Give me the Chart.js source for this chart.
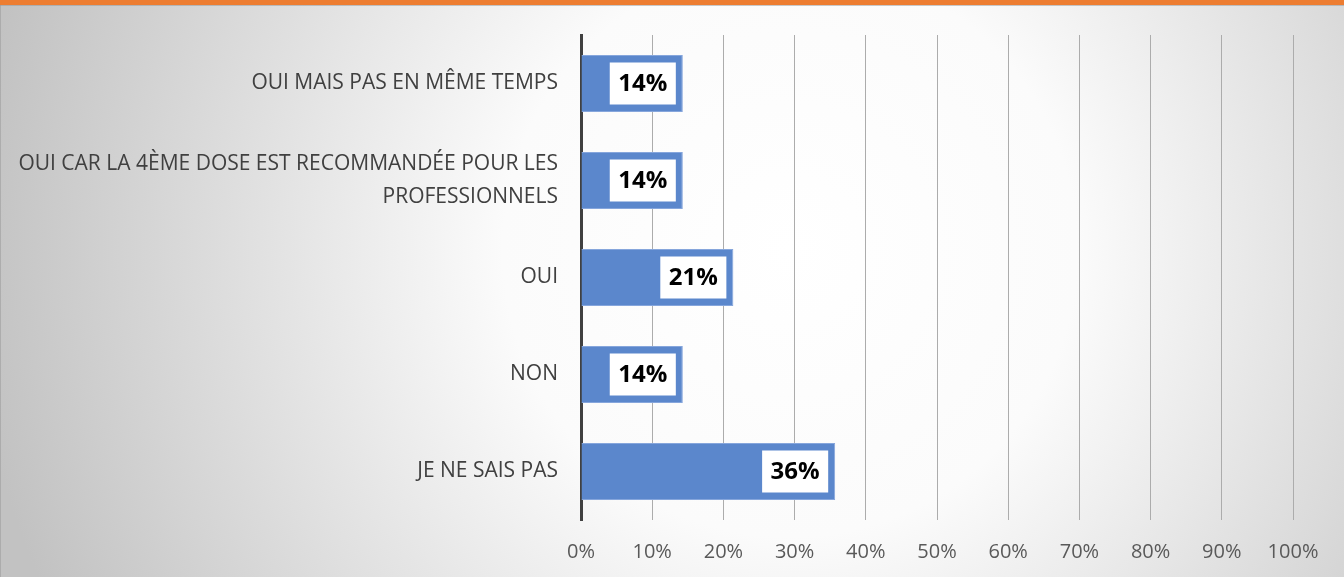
<!DOCTYPE html>
<html>
<head>
<meta charset="utf-8">
<script src="https://cdn.jsdelivr.net/npm/chart.js@4.4.1/dist/chart.umd.min.js"></script>
<style>
  html, body { margin: 0; padding: 0; background: #fff; }
  #wrap { width: 1344px; height: 577px; position: relative; }
</style>
</head>
<body>
<div id="wrap"><canvas id="chart" width="1344" height="577"></canvas></div>
<script>
// données du graphique
const categories = [
  'OUI MAIS PAS EN MÊME TEMPS',
  ['OUI CAR LA 4ÈME DOSE EST RECOMMANDÉE POUR LES', 'PROFESSIONNELS'],
  'OUI',
  'NON',
  'JE NE SAIS PAS'
];
const values = [14.3, 14.3, 21.4, 14.3, 35.7];
const valueLabels = ['14%', '14%', '21%', '14%', '36%'];
const tickValues = [0, 10, 20, 30, 40, 50, 60, 70, 80, 90, 100];

// fond dégradé + bandeau orange
const backgroundPlugin = {
  id: 'fond',
  beforeDraw(chart) {
    const { ctx, width, height } = chart;
    ctx.save();
    const g = ctx.createRadialGradient(790, 250, 0, 790, 250, 820);
    g.addColorStop(0, '#ffffff');
    g.addColorStop(0.35, '#fbfbfb');
    g.addColorStop(1, '#c2c2c2');
    ctx.fillStyle = g;
    ctx.fillRect(0, 0, width, height);
    ctx.fillStyle = '#ed7d31';
    ctx.fillRect(0, 0, width, 5);
    ctx.fillStyle = 'rgba(150,150,150,0.5)';
    ctx.fillRect(0, 5, width, 1);
    ctx.fillRect(0, 5, 1, height);
    ctx.restore();
  }
};

// étiquettes de valeur dans des cadres blancs
const valueLabelPlugin = {
  id: 'etiquettes',
  afterDatasetsDraw(chart) {
    const { ctx } = chart;
    const meta = chart.getDatasetMeta(0);
    ctx.save();
    ctx.font = 'bold 24px "Open Sans", sans-serif';
    ctx.textBaseline = 'middle';
    ctx.textAlign = 'center';
    meta.data.forEach((bar, i) => {
      const txt = valueLabels[i];
      const w = ctx.measureText(txt).width + 17;
      const h = 42;
      const right = bar.x - 7;
      ctx.fillStyle = '#ffffff';
      ctx.fillRect(right - w, bar.y - h / 2, w, h);
      ctx.fillStyle = '#000000';
      ctx.fillText(txt, right - w / 2, bar.y + 1);
    });
    ctx.restore();
  }
};

new Chart(document.getElementById('chart'), {
  type: 'bar',
  data: {
    labels: categories,
    datasets: [{
      data: values,
      backgroundColor: '#5b87cc',
      borderColor: '#86a6dc',
      borderWidth: 1,
      categoryPercentage: 1,
      barPercentage: 0.59
    }]
  },
  options: {
    indexAxis: 'y',
    responsive: false,
    animation: false,
    layout: { padding: { top: 35, right: 51, bottom: 0, left: 0 } },
    plugins: {
      legend: { display: false },
      tooltip: { enabled: false }
    },
    scales: {
      x: {
        min: 0,
        max: 100,
        afterBuildTicks(scale) {
          scale.ticks = tickValues.map(v => ({ value: v }));
        },
        afterFit(scale) { scale.height = 57; },
        grid: { color: '#acacac', lineWidth: 1, drawTicks: false },
        border: { display: false },
        ticks: {
          padding: 20,
          color: '#595959',
          font: { family: 'Open Sans', size: 20 },
          callback: v => v + '%'
        }
      },
      y: {
        afterFit(scale) { scale.width = 581; },
        grid: { display: false },
        border: { color: '#404040', width: 3 },
        ticks: {
          padding: 15,
          color: '#404040',
          font: { family: 'Open Sans', size: 21, lineHeight: 1.57 }
        }
      }
    }
  },
  plugins: [backgroundPlugin, valueLabelPlugin]
});
</script>
</body>
</html>
